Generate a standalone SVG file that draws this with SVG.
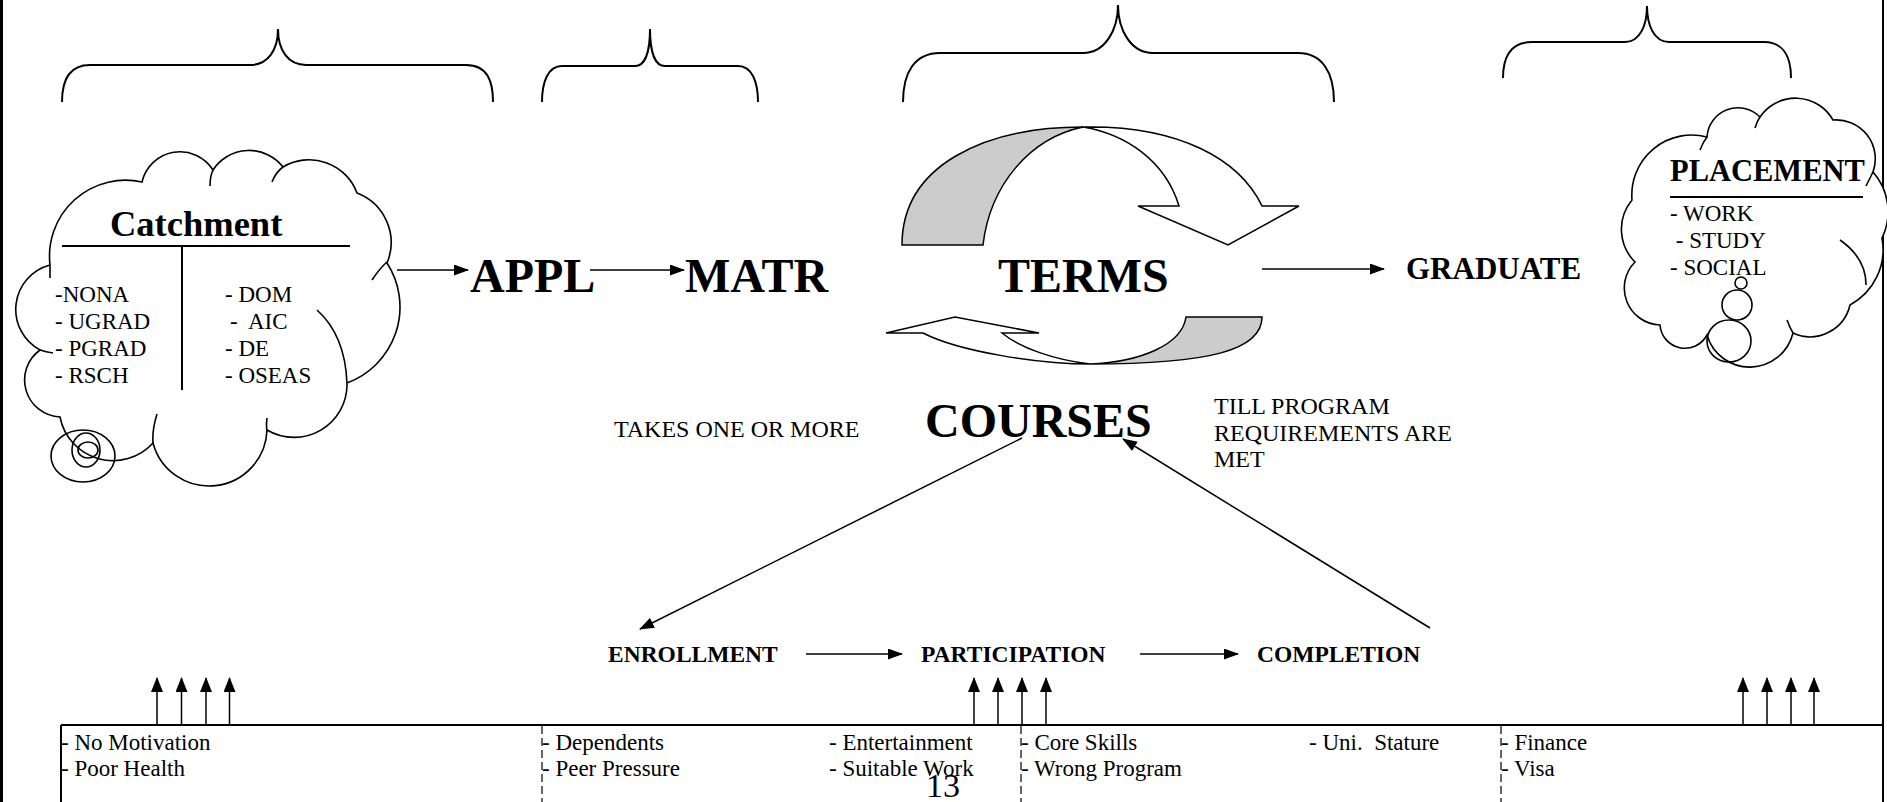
<svg xmlns="http://www.w3.org/2000/svg" width="1887" height="802" viewBox="0 0 1887 802">
<style>
  .t{font-family:"Liberation Serif","Times New Roman",serif;fill:#000;white-space:pre}
  .b{font-weight:bold}
  .brace{fill:none;stroke:#000;stroke-width:2}
  .cloud{fill:#fff;stroke:#000;stroke-width:1.6}
  .crease{fill:none;stroke:#000;stroke-width:1.6}
  .bub{fill:none;stroke:#000;stroke-width:1.6}
  .rib{stroke:#000;stroke-width:1.5;stroke-linejoin:miter}
  .arr{fill:none;stroke:#000;stroke-width:1.5;marker-end:url(#ah)}
  .up{fill:none;stroke:#000;stroke-width:1.5;marker-end:url(#ahu)}
  .rule{fill:none;stroke:#000;stroke-width:2}
  .dash{fill:none;stroke:#000;stroke-width:1.2;stroke-dasharray:8 4}
</style>
<defs>
  <marker id="ah" viewBox="0 0 15 11" refX="14" refY="5.5" markerWidth="15" markerHeight="11" markerUnits="userSpaceOnUse" orient="auto"><path d="M0,0 L15,5.5 L0,11 Z" fill="#000"/></marker>
  <marker id="ahu" viewBox="0 0 15 12" refX="14" refY="6" markerWidth="15" markerHeight="12" markerUnits="userSpaceOnUse" orient="auto"><path d="M0,0 L15,6 L0,12 Z" fill="#000"/></marker>
</defs>
<rect x="0" y="0" width="1887" height="802" fill="#fff"/>

<g id="page-border">
  <rect x="0" y="0" width="3" height="802" fill="#000"/>
  <rect x="1882" y="0" width="2" height="802" fill="#000"/>
</g>

<g id="braces">
  <path class="brace" d="M62,102 C62,82 68,65 90,65 L250,65 C268,65 278,50 278,29 C278,50 288,65 306,65 L466,65 C488,65 493,82 493,102"/>
  <path class="brace" d="M542,102 C542,82 548,66 562,66 L635,66 C645,66 650,52 650,29 C650,52 655,66 665,66 L738,66 C752,66 758,82 758,102"/>
  <path class="brace" d="M903,102 C903,72 915,53 940,53 L1083,53 C1105,53 1118,30 1118,5 C1118,30 1131,53 1153,53 L1298,53 C1322,53 1334,72 1334,102"/>
  <path class="brace" d="M1503,78 C1503,55 1512,42 1532,42 L1625,42 C1640,42 1647,25 1647,6 C1647,25 1654,42 1669,42 L1764,42 C1782,42 1791,55 1791,78"/>
</g>

<g id="catchment">
  <path class="cloud" d="M50,265 A76,76 0 0 1 142,182 A39,39 0 0 1 213,170 A43,43 0 0 1 283,167 A51,51 0 0 1 357,193 A53,53 0 0 1 387,263 A81,81 0 0 1 347,383 A53,53 0 0 1 267,430 A58,58 0 0 1 153,443 A54,54 0 0 1 60,417 A37,37 0 0 1 40,350 A46,46 0 0 1 50,265 Z"/>
  <path class="crease" d="M317,310 Q345,335 347,383 M372,280 Q380,268 387,262 M210,186 Q210,176 213,170 M272,182 Q276,172 283,167 M157,414 Q152,430 153,443 M267,418 Q266,426 267,430 M40,350 Q46,352 53,353 M50,265 L50,278"/>
  <ellipse class="bub" cx="83" cy="456" rx="32" ry="26"/>
  <ellipse class="bub" cx="86" cy="450" rx="14" ry="17"/>
  <ellipse class="bub" cx="88" cy="450" rx="10" ry="8"/>
  <text class="t b" x="110" y="236" font-size="36.5">Catchment</text>
  <line x1="62" y1="246" x2="350" y2="246" stroke="#000" stroke-width="2"/>
  <line x1="182" y1="247" x2="182" y2="390" stroke="#000" stroke-width="2"/>
  <g class="t" font-size="23">
    <text x="55" y="302">-NONA</text>
    <text x="55" y="329">- UGRAD</text>
    <text x="55" y="356">- PGRAD</text>
    <text x="55" y="383">- RSCH</text>
    <text x="225" y="302">- DOM</text>
    <text x="230" y="329" xml:space="preserve">-  AIC</text>
    <text x="225" y="356">- DE</text>
    <text x="225" y="383">- OSEAS</text>
  </g>
</g>

<g id="appl"><text class="t b" x="470" y="292" font-size="48">APPL</text></g>
<g id="matr"><text class="t b" x="685" y="292" font-size="48">MATR</text></g>

<g id="terms">
  <path class="rib" fill="#cccccc" d="M902,245 C902,165 985,127 1083,127 C1030,138 990,185 983,245 Z"/>
  <path class="rib" fill="#fff" d="M1083,127 C1180,125 1240,160 1262,206 L1299,206 L1228,245 L1138,206 L1179,206 C1165,160 1125,134 1083,127 Z"/>
  <path class="rib" fill="#cccccc" d="M1186,317 L1262,317 C1262,350 1210,364 1090,364 C1140,362 1182,345 1186,317 Z"/>
  <path class="rib" fill="#fff" d="M1090,364 C1040,364 960,352 923,333 L886,333 L955,317 L1039,333 L1002,333 C1020,348 1055,360 1090,364 Z"/>
  <text class="t b" x="998" y="292" font-size="48">TERMS</text>
</g>

<g id="graduate"><text class="t b" x="1406" y="279" font-size="31">GRADUATE</text></g>

<g id="placement">
  <path class="cloud" d="M1632,200 A60,60 0 0 1 1707,137 A31,31 0 0 1 1760,117 A43,43 0 0 1 1833,120 A39,39 0 0 1 1873,172 A60,60 0 0 1 1882,238 A63,63 0 0 1 1850,305 A41,41 0 0 1 1793,333 A44.5,44.5 0 0 1 1707,335 A25,25 0 0 1 1660,325 A37,37 0 0 1 1635,262 A46,46 0 0 1 1632,200 Z"/>
  <path class="crease" d="M1700,150 Q1703,142 1707,137 M1755,128 Q1757,121 1760,117 M1866,186 Q1870,178 1873,172 M1840,240 Q1866,258 1866,285 M1787,320 Q1790,328 1793,333"/>
  <text class="t b" x="1670" y="181" font-size="30.5">PLACEMENT</text>
  <line x1="1670" y1="197" x2="1863" y2="197" stroke="#000" stroke-width="2"/>
  <g class="t" font-size="23">
    <text x="1670" y="221">- WORK</text>
    <text x="1670" y="248" xml:space="preserve"> - STUDY</text>
    <text x="1670" y="275">- SOCIAL</text>
  </g>
  <circle class="bub" cx="1741" cy="283" r="6"/>
  <ellipse class="bub" cx="1737" cy="305" rx="15" ry="15"/>
  <ellipse class="bub" cx="1729" cy="341" rx="22" ry="21"/>
</g>

<g id="courses"><text class="t b" x="925" y="437" font-size="48">COURSES</text></g>
<g id="takes"><text class="t" x="614" y="437" font-size="24">TAKES ONE OR MORE</text></g>
<g id="till">
  <text class="t" x="1214" y="414" font-size="24">TILL PROGRAM</text>
  <text class="t" x="1214" y="441" font-size="24">REQUIREMENTS ARE</text>
  <text class="t" x="1214" y="467" font-size="24">MET</text>
</g>
<g id="enrollment"><text class="t b" x="608" y="662" font-size="23.5">ENROLLMENT</text></g>
<g id="participation"><text class="t b" x="921" y="662" font-size="23.5">PARTICIPATION</text></g>
<g id="completion"><text class="t b" x="1257" y="662" font-size="23.5">COMPLETION</text></g>

<g id="factors">
  <line class="rule" x1="61" y1="725" x2="1883" y2="725"/>
  <line class="rule" x1="61" y1="725" x2="61" y2="802"/>
  <line class="dash" x1="542" y1="726" x2="542" y2="802"/>
  <line class="dash" x1="1021" y1="726" x2="1021" y2="802"/>
  <line class="dash" x1="1501" y1="726" x2="1501" y2="802"/>
  <g class="t" font-size="23">
    <text x="61" y="750">- No Motivation</text>
    <text x="61" y="776">- Poor Health</text>
    <text x="542" y="750">- Dependents</text>
    <text x="542" y="776">- Peer Pressure</text>
    <text x="829" y="750">- Entertainment</text>
    <text x="829" y="776">- Suitable Work</text>
    <text x="1021" y="750">- Core Skills</text>
    <text x="1021" y="776">- Wrong Program</text>
    <text x="1309" y="750" xml:space="preserve">- Uni.  Stature</text>
    <text x="1501" y="750">- Finance</text>
    <text x="1501" y="776">- Visa</text>
  </g>
  <text class="t" x="926" y="797" font-size="34">13</text>
</g>

<g id="connectors">
  <line class="arr" x1="397" y1="270" x2="468" y2="270"/>
  <line class="arr" x1="590" y1="270" x2="684" y2="270"/>
  <line class="arr" x1="1262" y1="269" x2="1384" y2="269"/>
  <line class="arr" x1="1022" y1="438" x2="640" y2="629"/>
  <line class="arr" x1="1430" y1="628" x2="1123" y2="439"/>
  <line class="arr" x1="806" y1="654" x2="902" y2="654"/>
  <line class="arr" x1="1140" y1="654" x2="1238" y2="654"/>
  <line class="up" x1="157" y1="724" x2="157" y2="678"/>
  <line class="up" x1="181.5" y1="724" x2="181.5" y2="678"/>
  <line class="up" x1="206" y1="724" x2="206" y2="678"/>
  <line class="up" x1="229.5" y1="724" x2="229.5" y2="678"/>
  <line class="up" x1="974" y1="724" x2="974" y2="678"/>
  <line class="up" x1="998" y1="724" x2="998" y2="678"/>
  <line class="up" x1="1022" y1="724" x2="1022" y2="678"/>
  <line class="up" x1="1046" y1="724" x2="1046" y2="678"/>
  <line class="up" x1="1743" y1="724" x2="1743" y2="678"/>
  <line class="up" x1="1767" y1="724" x2="1767" y2="678"/>
  <line class="up" x1="1791" y1="724" x2="1791" y2="678"/>
  <line class="up" x1="1814" y1="724" x2="1814" y2="678"/>
</g>
</svg>
